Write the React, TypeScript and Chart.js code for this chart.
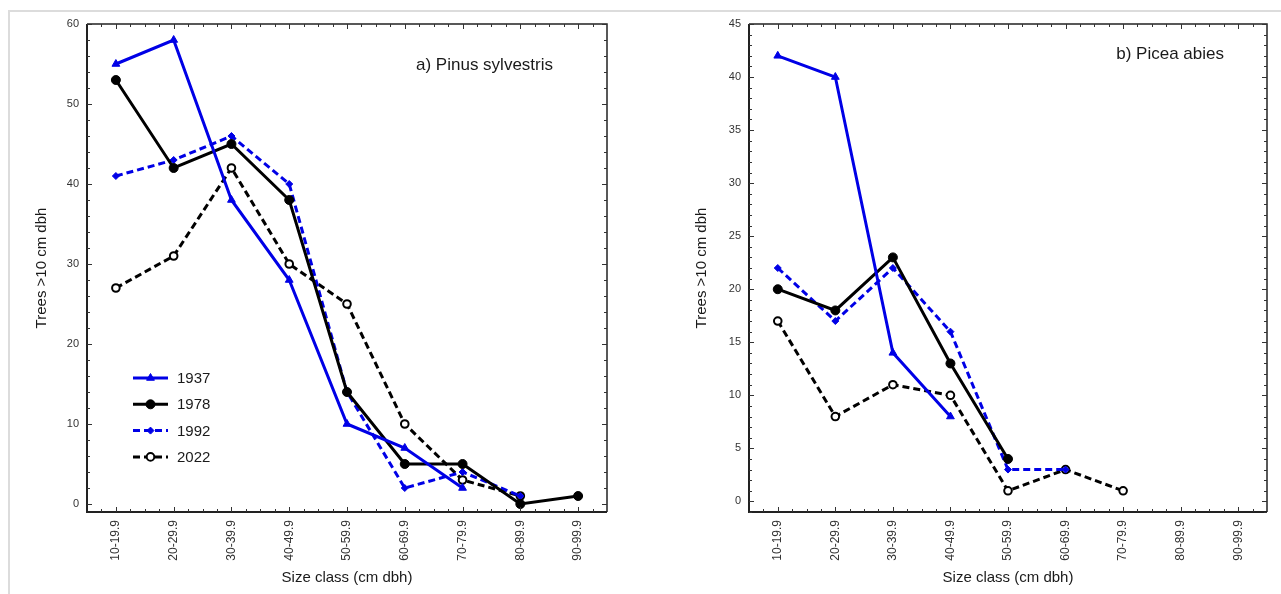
import React, { useEffect, useRef } from 'react';
import { Chart, registerables } from 'chart.js';
import { drawPoint } from 'chart.js/helpers';

Chart.register(...registerables);

// ---------- data ----------
const categories = ['10-19.9', '20-29.9', '30-39.9', '40-49.9', '50-59.9', '60-69.9', '70-79.9', '80-89.9', '90-99.9'];
const years = ['1937', '1978', '1992', '2022'];

const pinus1937 = [55, 58, 38, 28, 10, 7, 2, null, null];
const pinus1978 = [53, 42, 45, 38, 14, 5, 5, 0, 1];
const pinus1992 = [41, 43, 46, 40, 14, 2, 4, 1, null];
const pinus2022 = [27, 31, 42, 30, 25, 10, 3, 1, null];

const picea1937 = [42, 40, 14, 8, null, null, null, null, null];
const picea1978 = [20, 18, 23, 13, 4, null, null, null, null];
const picea1992 = [22, 17, 22, 16, 3, 3, null, null, null];
const picea2022 = [17, 8, 11, 10, 1, 3, 1, null, null];

const pinusYTicks = [0, 10, 20, 30, 40, 50, 60];
const piceaYTicks = [0, 5, 10, 15, 20, 25, 30, 35, 40, 45];

const pinusTitle = 'a) Pinus sylvestris';
const piceaTitle = 'b) Picea abies';
const yTitle = 'Trees >10 cm dbh';
const xTitle = 'Size class (cm dbh)';

// ---------- styles ----------
const BLUE = '#0000e6';
const FONT = '"Liberation Sans", Arial, Helvetica, sans-serif';
const seriesStyles = [
  { color: BLUE, dash: [] as number[], pointStyle: 'triangle', radius: 4.5, fill: BLUE, pbw: 1 },
  { color: '#000000', dash: [] as number[], pointStyle: 'circle', radius: 4.5, fill: '#000000', pbw: 1 },
  { color: BLUE, dash: [7, 4], pointStyle: 'rectRot', radius: 3.5, fill: BLUE, pbw: 1 },
  { color: '#000000', dash: [7, 4], pointStyle: 'circle', radius: 3.8, fill: '#ffffff', pbw: 2 },
];

const framePlugin = {
  id: 'framePlugin',
  afterDraw(chart: any, _args: any, opts: any) {
    const { ctx, chartArea } = chart;
    const { left, right, top, bottom } = chartArea;
    const xs = chart.scales.x;
    const ys = chart.scales.y;
    ctx.save();
    // box
    ctx.strokeStyle = '#222';
    ctx.setLineDash([]);
    ctx.lineWidth = 1.5;
    ctx.beginPath();
    ctx.moveTo(left, top);
    ctx.lineTo(right, top);
    ctx.lineTo(right, bottom);
    ctx.stroke();
    ctx.lineWidth = 2;
    ctx.beginPath();
    ctx.moveTo(left, top);
    ctx.lineTo(left, bottom);
    ctx.lineTo(right, bottom);
    ctx.stroke();
    // inward ticks
    ctx.lineWidth = 1;
    ctx.strokeStyle = '#333';
    const sp = xs.getPixelForValue(1) - xs.getPixelForValue(0);
    const c0 = xs.getPixelForValue(0);
    const n = categories.length;
    ctx.beginPath();
    for (let k = -1; k <= (n - 1) * 4 + 1; k++) {
      const x = Math.round(c0 + (k * sp) / 4) + 0.5;
      const len = k % 4 === 0 ? 5 : 3;
      ctx.moveTo(x, bottom);
      ctx.lineTo(x, bottom - len);
      ctx.moveTo(x, top);
      ctx.lineTo(x, top + len);
    }
    const majors: number[] = opts.yTicks;
    for (let v = Math.ceil(ys.min); v <= ys.max; v += 1) {
      if (v % opts.yMinor !== 0) continue;
      const y = Math.round(ys.getPixelForValue(v)) + 0.5;
      const len = majors.includes(v) ? 5 : 3;
      ctx.moveTo(left, y);
      ctx.lineTo(left + len, y);
      ctx.moveTo(right, y);
      ctx.lineTo(right - len, y);
    }
    ctx.stroke();
    // annotation
    ctx.fillStyle = '#1a1a1a';
    ctx.font = `17px ${FONT}`;
    ctx.textAlign = 'right';
    ctx.textBaseline = 'middle';
    ctx.fillText(opts.title, right - opts.titleRight, opts.titleY);
    // legend
    if (opts.legend) {
      chart.data.datasets.forEach((ds: any, i: number) => {
        const y = top + 354 + i * 26.3;
        const x0 = left + 46;
        const x1 = x0 + 35;
        ctx.strokeStyle = ds.borderColor;
        ctx.lineWidth = ds.borderWidth;
        ctx.setLineDash(ds.borderDash || []);
        ctx.beginPath();
        ctx.moveTo(x0, y);
        ctx.lineTo(x1, y);
        ctx.stroke();
        ctx.setLineDash([]);
        ctx.fillStyle = ds.pointBackgroundColor;
        ctx.strokeStyle = ds.pointBorderColor;
        ctx.lineWidth = ds.pointBorderWidth;
        drawPoint(ctx, { pointStyle: ds.pointStyle, radius: ds.pointRadius, borderWidth: ds.pointBorderWidth, rotation: 0 }, (x0 + x1) / 2, y);
        ctx.fillStyle = '#1a1a1a';
        ctx.font = `15px ${FONT}`;
        ctx.textAlign = 'left';
        ctx.textBaseline = 'middle';
        ctx.fillText(ds.label, left + 90, y + 1);
      });
    }
    ctx.restore();
  },
};

function makeConfig(series: (number | null)[][], yTicks: number[], yMinor: number, axisW: number, padRight: number, yTitlePad: number, title: string, titleRight: number, titleY: number, legend: boolean): any {
  return {
    type: 'line',
    data: {
      labels: categories,
      datasets: series.map((vals, i) => ({
        label: years[i],
        data: vals,
        borderColor: seriesStyles[i].color,
        backgroundColor: seriesStyles[i].fill,
        borderWidth: 3,
        borderDash: seriesStyles[i].dash,
        pointStyle: seriesStyles[i].pointStyle,
        pointRadius: seriesStyles[i].radius,
        pointBackgroundColor: seriesStyles[i].fill,
        pointBorderColor: seriesStyles[i].color,
        pointBorderWidth: seriesStyles[i].pbw,
        tension: 0,
        spanGaps: false,
        fill: false,
      })),
    },
    options: {
      responsive: false,
      animation: false,
      devicePixelRatio: 1,
      layout: { padding: { left: 0, right: padRight, top: 24, bottom: 0 } },
      plugins: {
        legend: { display: false },
        tooltip: { enabled: false },
        framePlugin: { yTicks, yMinor, title, titleRight, titleY, legend },
      },
      scales: {
        x: {
          type: 'category',
          offset: true,
          grid: { display: false, drawTicks: false },
          border: { display: false },
          ticks: {
            minRotation: 90,
            maxRotation: 90,
            padding: 8,
            autoSkip: false,
            color: '#333',
            font: { family: FONT, size: 12 },
          },
          title: {
            display: true,
            text: xTitle,
            color: '#1a1a1a',
            font: { family: FONT, size: 15, lineHeight: 1.2 },
            padding: { top: 0, bottom: 7 },
          },
          afterFit: (s: any) => { s.height = 82; },
        },
        y: {
          type: 'linear',
          min: -1,
          max: yTicks[yTicks.length - 1],
          grid: { display: false, drawTicks: false },
          border: { display: false },
          ticks: {
            padding: 8,
            color: '#333',
            font: { family: FONT, size: 11 },
          },
          afterBuildTicks: (s: any) => { s.ticks = yTicks.map((v) => ({ value: v })); },
          title: {
            display: true,
            text: yTitle,
            color: '#1a1a1a',
            font: { family: FONT, size: 15, lineHeight: 1.2 },
            padding: { top: yTitlePad, bottom: 0 },
          },
          afterFit: (s: any) => { s.width = axisW; },
        },
      },
    },
    plugins: [framePlugin],
  };
}

function ChartCanvas({ config, width, height, left }: { config: any; width: number; height: number; left: number }) {
  const ref = useRef<HTMLCanvasElement>(null);
  useEffect(() => {
    if (!ref.current) return;
    const chart = new Chart(ref.current, config);
    return () => chart.destroy();
  }, [config]);
  return (
    <canvas
      ref={ref}
      width={width}
      height={height}
      style={{ position: 'absolute', left, top: 0, width, height, display: 'block' }}
    />
  );
}

const leftConfig = makeConfig([pinus1937, pinus1978, pinus1992, pinus2022], pinusYTicks, 2, 87, 33, 33, pinusTitle, 54, 65, true);
const rightConfig = makeConfig([picea1937, picea1978, picea1992, picea2022], piceaYTicks, 1, 109, 14, 53, piceaTitle, 43, 54, false);

export default function App() {
  return (
    <div style={{ position: 'absolute', left: 0, top: 0, width: 1281, height: 594, background: '#fff', overflow: 'hidden' }}>
      <div
        style={{
          position: 'absolute',
          left: 8,
          top: 10,
          right: 0,
          bottom: 0,
          borderTop: '2px solid #dcdcdc',
          borderLeft: '2px solid #dcdcdc',
        }}
      />
      <ChartCanvas config={leftConfig} width={640} height={594} left={0} />
      <ChartCanvas config={rightConfig} width={641} height={594} left={640} />
    </div>
  );
}
